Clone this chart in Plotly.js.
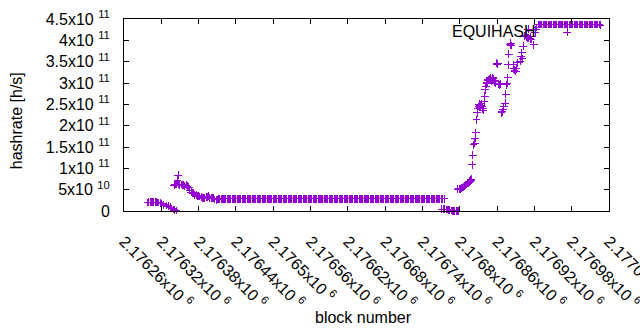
<!DOCTYPE html>
<html>
<head>
<meta charset="utf-8">
<script src="https://cdn.plot.ly/plotly-3.0.1.min.js"></script>
<style>html,body{margin:0;padding:0;background:#fff;}#chart{width:640px;height:330px;}
.scatterlayer path.point, .shapelayer path{shape-rendering:crispEdges;}</style>
</head>
<body>
<div id="chart"></div>
<script>
// block numbers
const blocks = [
2176298,2176300,2176302,2176304,2176306,2176308,2176310,2176312,2176314,2176316,2176318,2176321,2176324,2176328,2176331,2176334,2176337,2176340,2176342,2176344,
2176341,2176342,2176343,2176344,2176346,2176347,2176348,2176350,2176352,2176354,2176356,2176358,2176360,2176362,2176364,2176366,2176368,2176370,2176372,2176374,
2176376,2176378,2176380,2176382,2176384,2176386,2176388,2176390,2176392,2176394,2176396,2176398,2176400,2176402,2176404,2176406,2176408,2176410,2176412,2176414,
2176416,2176418,2176420,2176422,2176424,2176426,2176428,2176430,2176432,2176434,
2176436,2176438,2176440,2176442,2176444,2176446,2176448,2176450,2176452,2176454,
2176456,2176458,2176460,2176462,2176464,2176466,2176468,2176470,2176472,2176474,
2176476,2176478,2176480,2176482,2176484,2176486,2176488,2176490,2176492,2176494,
2176496,2176498,2176500,2176502,2176504,2176506,2176508,2176510,2176512,2176514,
2176516,2176518,2176520,2176522,2176524,2176526,2176528,2176530,2176532,2176534,
2176536,2176538,2176540,2176542,2176544,2176546,2176548,2176550,2176552,2176554,
2176556,2176558,2176560,2176562,2176564,2176566,2176568,2176570,2176572,2176574,
2176576,2176578,2176580,2176582,2176584,2176586,2176588,2176590,2176592,2176594,
2176596,2176598,2176600,2176602,2176604,2176606,2176608,2176610,2176612,2176614,
2176616,2176618,2176620,2176622,2176624,2176626,2176628,2176630,2176632,2176634,
2176636,2176638,2176640,2176642,2176644,2176646,2176648,2176650,2176652,2176654,
2176656,2176658,2176660,2176662,2176664,2176666,2176668,2176670,2176672,2176674,
2176676,2176678,2176680,2176682,2176684,2176686,2176688,2176690,2176692,2176694,
2176696,2176698,2176700,2176702,2176704,2176706,2176708,2176710,2176712,2176714,
2176716,2176718,2176720,2176722,2176724,2176726,2176728,2176730,2176732,2176734,
2176736,2176738,2176740,2176742,2176744,2176746,2176748,2176750,2176752,2176754,
2176756,2176758,2176760,2176762,2176764,2176766,2176768,2176770,2176772,2176775,
2176771,2176774,2176776,2176778,2176780,2176782,2176784,2176786,2176788,2176790,2176792,2176794,2176796,2176798,2176800,
2176797,2176799,2176801,2176803,2176805,2176806,2176808,2176810,2176811,2176813,2176815,2176816,2176818,2176819,2176820,
2176821,2176822,2176824,2176825,2176826,2176827,2176828,2176829,2176830,2176831,2176832,2176833,2176834,2176835,2176836,
2176837,2176838,2176839,2176840,2176841,2176842,2176843,2176844,2176845,2176846,2176847,2176848,2176849,2176850,2176851,
2176852,2176853,2176854,2176855,2176856,2176857,2176859,2176860,2176861,2176863,2176864,2176866,2176867,2176868,2176870,
2176871,2176873,2176874,2176875,2176876,2176877,2176878,2176879,2176881,2176882,2176883,2176886,2176887,2176888,2176889,
2176890,2176891,2176893,2176897,2176899,2176900,2176901,2176902,2176904,2176906,2176907,2176909,2176910,2176911,2176913,
2176914,2176915,2176919,2176921,2176922,2176924,
2176926,2176928,2176930,2176932,2176934,2176936,2176938,2176940,2176942,2176944,
2176946,2176948,2176950,2176952,2176954,2176956,2176958,2176960,2176962,2176964,
2176966,2176968,2176970,2176972,2176974,2176976,2176978,2176980,2176982,2176984,
2176986,2176988,2176990,2176992,2176994,2176996,2176998,2177000,2177002,2177004,
2177006,2177008,2177010,2177012,2177014,2177016,2177018,2177020,2177022,2177024,2177026
];
// hashrate in units of 1e9 h/s
const hashrateG = [
20,21,21,21,21,20.5,21,20.5,20,20,19,17,15,13,11,8.5,6,3.5,2,1,
60,62,63,62,72,84,63,61,62,60,61,59,60,58,56,49,44,43,42,38,
37,36,35,34,32,31,30,31,32,33,35,31,30,30,30,27,26,27,28,29,
29,29,29,29,29,29,29,29,29,29,
29,29,29,29,29,29,29,29,29,29,
29,29,29,29,29,29,29,29,29,29,
29,29,29,29,29,29,29,29,29,29,
29,29,29,29,29,29,29,29,29,29,
29,29,29,29,29,29,29,29,29,29,
29,29,29,29,29,29,29,29,29,29,
29,29,29,29,29,29,29,29,29,29,
29,29,29,29,29,29,29,29,29,29,
29,29,29,29,29,29,29,29,29,29,
29,29,29,29,29,29,29,29,29,29,
29,29,29,29,29,29,29,29,29,29,
29,29,29,29,29,29,29,29,29,29,
29,29,29,29,29,29,29,29,29,29,
29,29,29,29,29,29,29,29,29,29,
29,29,29,29,29,29,29,29,29,29,
29,29,29,29,29,29,29,29,29,29,
29,29,29,29,29,29,29,29,29,29,
4,4,4,3.5,3.5,3,2,1,0.5,0.5,0.5,0,0,0,-0.5,
51,52,51,53,55,56,58,60,62,65,67,70,72,75,108,
131,155,159,171,184,214,230,240,245,250,247,243,248,252,245,
240,236,257,269,284,292,298,302,305,308,306,310,312,308,305,
310,313,310,306,303,300,346,344,345,298,296,297,230,233,238,
245,253,274,296,300,312,343,367,390,393,388,343,333,330,328,
327,333,347,351,363,371,357,386,410,412,408,406,426,405,404,
408,402,390,418,425,430,
437,437,437,437,437,437,437,437,437,437,
437,437,437,437,437,437,437,437,437,437,
437,437,437,437,437,437,437,437,437,437,
437,437,437,437,437,437,437,437,437,437,
437,437,437,437,437,437,437,437,437,437,435
];
const seriesName = "EQUIHASH";
const xTickVals = [2176260,2176320,2176380,2176440,2176500,2176560,2176620,2176680,2176740,2176800,2176860,2176920,2176980,2177040];
const xTickMant = ["2.17626","2.17632","2.17638","2.17644","2.1765","2.17656","2.17662","2.17668","2.17674","2.1768","2.17686","2.17692","2.17698","2.17704"];
const yTickVals = [0,5e10,1e11,1.5e11,2e11,2.5e11,3e11,3.5e11,4e11,4.5e11];
const yTickMant = ["0","5","1","1.5","2","2.5","3","3.5","4","4.5"];
const yTickExp = ["","10","11","11","11","11","11","11","11","11"];

const PURPLE = '#9400d3';
const FONT = 'Liberation Sans, Arial, sans-serif';

const xTickText = xTickMant.map(m => m + 'x10&nbsp;<sup>6</sup>');
const yTickText = yTickMant.map((m, i) => yTickExp[i] ? m + 'x10&nbsp;<sup>' + yTickExp[i] + '</sup>' : m);

const trace = {
  x: blocks,
  y: hashrateG.map(v => v * 1e9),
  type: 'scatter',
  mode: 'markers',
  name: seriesName,
  cliponaxis: false,
  marker: {symbol: 'cross-thin', size: 5.6, color: PURPLE, line: {width: 1, color: PURPLE}},
  showlegend: false,
  hoverinfo: 'skip'
};

const layout = {
  width: 640, height: 330,
  margin: {l: 124, r: 31, t: 19, b: 119, pad: 0},
  paper_bgcolor: '#fff', plot_bgcolor: '#fff',
  font: {family: FONT, size: 16, color: '#000'},
  showlegend: false,
  xaxis: {
    range: [2176260, 2177040], autorange: false,
    tickmode: 'array', tickvals: xTickVals, ticktext: xTickText,
    tickangle: 45, ticks: 'inside', ticklen: 5, tickcolor: '#000',
    showline: true, linecolor: '#000', linewidth: 1, mirror: 'ticks',
    showgrid: false, zeroline: false,
    ticklabeloverflow: 'allow',
    ticklabelstandoff: 14,
    tickfont: {family: FONT, size: 16, color: '#000'}
  },
  yaxis: {
    range: [0, 4.5e11], autorange: false,
    tickmode: 'array', tickvals: yTickVals, ticktext: yTickText,
    ticks: 'inside', ticklen: 5, tickcolor: '#000',
    showline: true, linecolor: '#000', linewidth: 1, mirror: 'ticks',
    showgrid: false, zeroline: false,
    ticklabelstandoff: 10,
    ticklabeloverflow: 'allow',
    tickfont: {family: FONT, size: 16, color: '#000'}
  },
  annotations: [
    {text: 'hashrate [h/s]', xref: 'paper', yref: 'paper', x: -0.2227, y: 0.473, textangle: -90,
     showarrow: false, xanchor: 'center', yanchor: 'middle', font: {family: FONT, size: 16, color: '#000'}},
    {text: 'block number', xref: 'paper', yref: 'paper', x: 0.4948, y: -0.554,
     showarrow: false, xanchor: 'center', yanchor: 'middle', font: {family: FONT, size: 16, color: '#000'}},
    {text: seriesName, xref: 'paper', yref: 'paper', x: 0.854, y: 0.9338,
     showarrow: false, xanchor: 'right', yanchor: 'middle', font: {family: FONT, size: 16, color: '#000'}}
  ],
  shapes: [
    {type: 'path', xref: 'paper', yref: 'paper', xsizemode: 'pixel', ysizemode: 'pixel',
     xanchor: 0.914, yanchor: 0.9306, path: 'M-4,0H4M0,-4V4', line: {color: PURPLE, width: 1}}
  ]
};

Plotly.newPlot('chart', [trace], layout, {displayModeBar: false, staticPlot: true});
</script>
</body>
</html>
